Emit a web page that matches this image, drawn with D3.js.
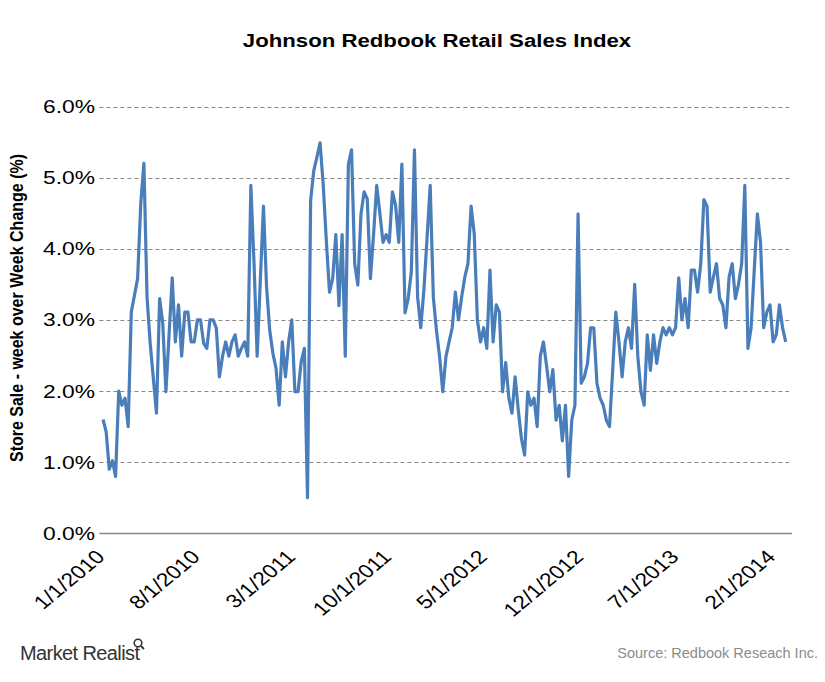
<!DOCTYPE html>
<html>
<head>
<meta charset="utf-8">
<script src="https://cdn.jsdelivr.net/npm/d3@7"></script>
<style>
  html, body { margin: 0; padding: 0; background: #fff; }
  svg { display: block; }
</style>
</head>
<body>
<svg id="chart" width="825" height="682"></svg>
<script>
// ---- Data ----
const startDate = "2010-01-02";           // first weekly observation
const weeks = [0,1,2,3,4,5,6,7,8,9,11,12,13,14,15,17,18,19,20,22,23,24,25,26,27,28,29,30,31,32,33,34,35,36,37,38,39,40,41,42,43,44,45,46,47,48,49,50,51,52,53,54,55,56,57,58,59,60,61,62,63,64,65,66,67,68,69,70,71,72,73,74,75,76,77,78,79,80,81,82,83,84,85,86,87,88,89,90,91,92,93,94,95,96,97,98,99,100,101,102,103,104,105,106,107,108,109,110,111,112,113,114,115,116,117,118,119,120,121,122,123,124,125,126,127,128,129,130,131,132,133,134,135,136,137,138,139,140,141,142,143,144,145,146,147,148,149,150,151,152,153,154,155,156,157,158,159,160,161,162,163,164,165,166,167,168,169,170,171,172,173,174,175,176,177,178,179,180,181,182,183,184,185,186,187,188,189,190,191,192,193,194,195,196,197,198,199,200,201,202,203,204,205,206,207,208,209,210,211,212,213,214,215,216,217];
const salesChange = [1.60,1.43,0.90,1.02,0.80,2.00,1.80,1.90,1.50,3.11,3.58,4.63,5.20,3.32,2.67,1.69,3.30,2.95,1.99,3.59,2.69,3.21,2.49,3.11,3.11,2.69,2.69,3.00,3.00,2.67,2.60,3.00,3.00,2.89,2.20,2.49,2.69,2.49,2.69,2.79,2.49,2.60,2.69,2.49,4.89,3.80,2.49,3.55,4.60,3.46,2.85,2.53,2.32,1.80,2.69,2.20,2.69,3.00,1.99,1.99,2.41,2.60,0.50,4.68,5.10,5.29,5.49,4.90,4.10,3.39,3.58,4.20,3.20,4.20,2.49,5.19,5.39,3.79,3.49,4.49,4.80,4.70,3.58,4.20,4.89,4.50,4.09,4.20,4.09,4.80,4.61,4.09,5.19,3.10,3.30,3.67,5.39,3.32,2.89,3.42,4.15,4.89,3.32,2.85,2.48,1.99,2.48,2.69,2.89,3.39,3.00,3.32,3.60,3.79,4.60,4.21,3.00,2.69,2.89,2.60,3.70,2.69,3.21,3.11,1.99,2.40,1.90,1.69,2.20,1.73,1.33,1.10,1.99,1.80,1.90,1.50,2.49,2.69,2.35,1.99,2.30,1.59,1.80,1.30,1.80,0.80,1.59,1.80,4.49,2.11,2.20,2.39,2.89,2.89,2.11,1.90,1.80,1.59,1.50,2.29,3.11,2.69,2.20,2.69,2.89,2.60,3.50,2.48,1.99,1.80,2.79,2.29,2.79,2.39,2.69,2.89,2.79,2.89,2.79,2.89,3.59,3.00,3.30,2.89,3.70,3.70,3.39,3.79,4.69,4.60,3.39,3.60,3.79,3.30,3.21,2.89,3.60,3.79,3.30,3.50,3.79,4.89,2.60,2.89,3.70,4.49,4.09,2.89,3.11,3.21,2.69,2.79,3.21,2.89,2.69];
const xTickLabels = ["1/1/2010","8/1/2010","3/1/2011","10/1/2011","5/1/2012","12/1/2012","7/1/2013","2/1/2014"];
const yTickValues = [0,1,2,3,4,5,6];
const xDomain = ["2009-12-25","2014-03-15"];

const svg = d3.select("#chart");
const parseISO = d3.utcParse("%Y-%m-%d");
const parseMDY = d3.utcParse("%m/%d/%Y");
const start = parseISO(startDate);
const data = weeks.map((w, i) => ({ date: d3.utcDay.offset(start, 7 * w), v: salesChange[i] }));

const x = d3.scaleUtc().domain(xDomain.map(parseISO)).range([99.4, 792]);
const y = d3.scaleLinear().domain([0, 6]).range([533.3, 106.5]);
const stretch = 1.2;   // the reference's text is horizontally stretched

// gridlines
svg.append("g")
  .selectAll("line")
  .data(yTickValues.filter(d => d > 0))
  .join("line")
  .attr("x1", 99.4).attr("x2", 789)
  .attr("y1", d => Math.round(y(d)) + 0.5).attr("y2", d => Math.round(y(d)) + 0.5)
  .attr("stroke", "#878787").attr("stroke-width", 1.2)
  .attr("stroke-dasharray", "4,3");

// x baseline
svg.append("line")
  .attr("x1", 99.4).attr("x2", 792)
  .attr("y1", Math.round(y(0)) + 0.5).attr("y2", Math.round(y(0)) + 0.5)
  .attr("stroke", "#878787").attr("stroke-width", 1.5);

// y axis labels
const yAxis = d3.axisLeft(y).tickValues(yTickValues).tickSize(0).tickPadding(0)
  .tickFormat(d => d3.format(".1f")(d) + "%");
const gy = svg.append("g").attr("transform", "translate(95,0)").call(yAxis);
gy.select(".domain").remove();
gy.selectAll("text")
  .attr("font-family", "Liberation Sans, Arial, sans-serif")
  .attr("font-size", 19).attr("fill", "#000")
  .attr("transform", `scale(${stretch},1)`);

// x axis labels
const xAxis = d3.axisBottom(x).tickValues(xTickLabels.map(parseMDY)).tickSize(0)
  .tickFormat((d, i) => xTickLabels[i]);
const gx = svg.append("g").attr("transform", "translate(0,533)").call(xAxis);
gx.select(".domain").remove();
gx.selectAll("text")
  .attr("font-family", "Liberation Sans, Arial, sans-serif")
  .attr("font-size", 19).attr("fill", "#000")
  .attr("text-anchor", "end")
  .attr("y", 0).attr("dy", 0)
  .attr("transform", `translate(3,25) scale(${stretch},1) rotate(-45)`);

// line
svg.append("path")
  .datum(data)
  .attr("fill", "none")
  .attr("stroke", "#4a7ebb")
  .attr("stroke-width", 3.2)
  .attr("stroke-linejoin", "round")
  .attr("d", d3.line().x(d => x(d.date)).y(d => y(d.v)));

// title
svg.append("text")
  .attr("transform", `translate(437,47) scale(${stretch},1)`)
  .attr("text-anchor", "middle")
  .attr("font-family", "Liberation Sans, Arial, sans-serif")
  .attr("font-weight", "bold").attr("font-size", 18.5)
  .text("Johnson Redbook Retail Sales Index");

// y axis title
svg.append("text")
  .attr("transform", `translate(23,308) scale(${stretch},1) rotate(-90)`)
  .attr("text-anchor", "middle")
  .attr("font-family", "Liberation Sans, Arial, sans-serif")
  .attr("font-weight", "bold").attr("font-size", 16)
  .text("Store Sale - week over Week Change (%)");

// footer: source
svg.append("text")
  .attr("x", 818).attr("y", 658)
  .attr("text-anchor", "end")
  .attr("font-family", "Liberation Sans, Arial, sans-serif")
  .attr("font-size", 14.5).attr("fill", "#8c8c8c")
  .text("Source: Redbook Reseach Inc.");

// footer: logo
const logo = svg.append("g");
logo.append("text")
  .attr("x", 20).attr("y", 660)
  .attr("font-family", "Liberation Sans Narrow, Liberation Sans, Arial, sans-serif")
  .attr("font-size", 20).attr("fill", "#333")
  .attr("letter-spacing", -0.6)
  .text("Market Realist");
logo.append("circle").attr("cx", 138).attr("cy", 643).attr("r", 3.8)
  .attr("fill", "none").attr("stroke", "#333").attr("stroke-width", 1.6);
logo.append("line").attr("x1", 141).attr("y1", 646).attr("x2", 144).attr("y2", 649)
  .attr("stroke", "#333").attr("stroke-width", 1.8);
</script>
</body>
</html>
